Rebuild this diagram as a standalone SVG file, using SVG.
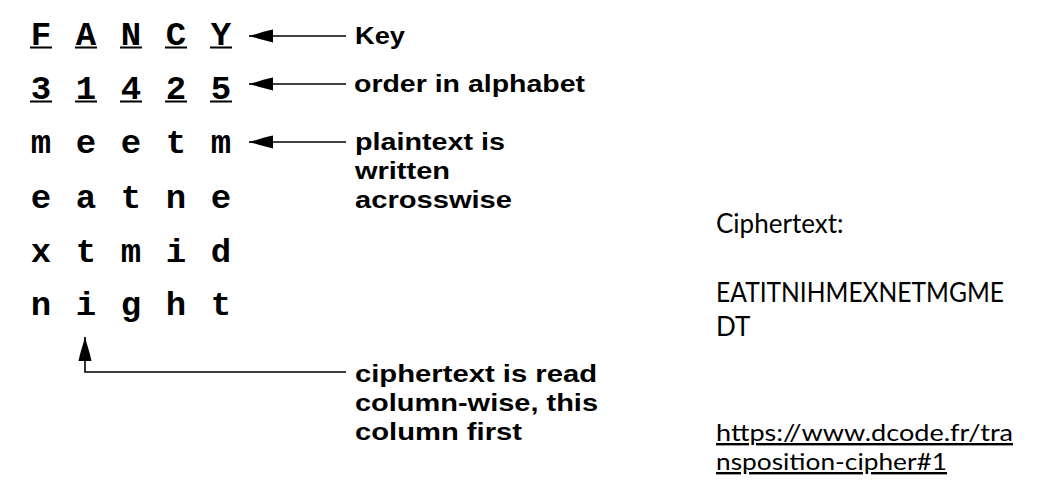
<svg xmlns="http://www.w3.org/2000/svg" width="1048" height="486" viewBox="0 0 1048 486">
<style>
.g{font-family:"Liberation Mono","DejaVu Sans Mono",monospace;font-weight:bold;font-size:34px;fill:#000;text-anchor:middle}
.u{fill:#000}
.lab{font-family:"Liberation Sans",Arial,sans-serif;font-weight:bold;font-size:23px;fill:#000}
.rt{font-family:Lato,"Open Sans",sans-serif;font-size:26px;fill:#000}
.url{font-family:Lato,"Open Sans",sans-serif;font-size:24px;fill:#000;text-decoration:underline}
.conn{stroke:#000;stroke-width:1.6;fill:none}
</style>
<defs>
<marker id="ah" markerUnits="userSpaceOnUse" markerWidth="26" markerHeight="16" viewBox="0 -8 26 16" refX="24" refY="0" orient="auto">
<path d="M24,0 C16,-2 8,-5 0,-6.5 L0,6.5 C8,5 16,2 24,0 Z" fill="#000"/>
</marker>
</defs>
<rect width="1048" height="486" fill="#fff"/>

<g id="key-row">
<text class="g" x="41" y="45">F</text><text class="g" x="86" y="45">A</text><text class="g" x="131" y="45">N</text><text class="g" x="176" y="45">C</text><text class="g" x="221" y="45">Y</text>
<rect class="u" x="30" y="46.5" width="22" height="2"/><rect class="u" x="75" y="46.5" width="22" height="2"/><rect class="u" x="120" y="46.5" width="22" height="2"/><rect class="u" x="165" y="46.5" width="22" height="2"/><rect class="u" x="210" y="46.5" width="22" height="2"/>
</g>
<g id="order-row">
<text class="g" x="41" y="99">3</text><text class="g" x="86" y="99">1</text><text class="g" x="131" y="99">4</text><text class="g" x="176" y="99">2</text><text class="g" x="221" y="99">5</text>
<rect class="u" x="30" y="100.5" width="22" height="2"/><rect class="u" x="75" y="100.5" width="22" height="2"/><rect class="u" x="120" y="100.5" width="22" height="2"/><rect class="u" x="165" y="100.5" width="22" height="2"/><rect class="u" x="210" y="100.5" width="22" height="2"/>
</g>
<g id="plaintext-grid">
<text class="g" x="41" y="153">m</text><text class="g" x="86" y="153">e</text><text class="g" x="131" y="153">e</text><text class="g" x="176" y="153">t</text><text class="g" x="221" y="153">m</text>
<text class="g" x="41" y="208">e</text><text class="g" x="86" y="208">a</text><text class="g" x="131" y="208">t</text><text class="g" x="176" y="208">n</text><text class="g" x="221" y="208">e</text>
<text class="g" x="41" y="262">x</text><text class="g" x="86" y="262">t</text><text class="g" x="131" y="262">m</text><text class="g" x="176" y="262">i</text><text class="g" x="221" y="262">d</text>
<text class="g" x="41" y="315">n</text><text class="g" x="86" y="315">i</text><text class="g" x="131" y="315">g</text><text class="g" x="176" y="315">h</text><text class="g" x="221" y="315">t</text>
</g>

<g id="label-key"><text class="lab" x="355" y="44" textLength="50" lengthAdjust="spacingAndGlyphs">Key</text></g>
<g id="label-order"><text class="lab" x="354" y="92" textLength="231" lengthAdjust="spacingAndGlyphs">order in alphabet</text></g>
<g id="label-plaintext">
<text class="lab" x="355" y="150" textLength="150" lengthAdjust="spacingAndGlyphs">plaintext is</text>
<text class="lab" x="355" y="179" textLength="95" lengthAdjust="spacingAndGlyphs">written</text>
<text class="lab" x="355" y="208" textLength="157" lengthAdjust="spacingAndGlyphs">acrosswise</text>
</g>
<g id="label-ciphertext">
<text class="lab" x="355" y="382" textLength="242" lengthAdjust="spacingAndGlyphs">ciphertext is read</text>
<text class="lab" x="355" y="411" textLength="243" lengthAdjust="spacingAndGlyphs">column-wise, this</text>
<text class="lab" x="355" y="440" textLength="167" lengthAdjust="spacingAndGlyphs">column first</text>
</g>

<g id="result-panel">
<text class="rt" x="716" y="233">Ciphertext:</text>
<text class="rt" x="716" y="302" textLength="288" lengthAdjust="spacingAndGlyphs">EATITNIHMEXNETMGME</text>
<text class="rt" x="716" y="336">DT</text>
<text class="url" x="716" y="441" textLength="297" lengthAdjust="spacingAndGlyphs">https://www.dcode.fr/tra</text>
<text class="url" x="716" y="470" textLength="231" lengthAdjust="spacingAndGlyphs">nsposition-cipher#1</text>
</g>

<g id="connectors">
<path class="conn" d="M346,36 H249" marker-end="url(#ah)"/>
<path class="conn" d="M346,84 H249" marker-end="url(#ah)"/>
<path class="conn" d="M346,142 H249" marker-end="url(#ah)"/>
<path class="conn" d="M346,372 H85 V337" marker-end="url(#ah)"/>
</g>
</svg>
